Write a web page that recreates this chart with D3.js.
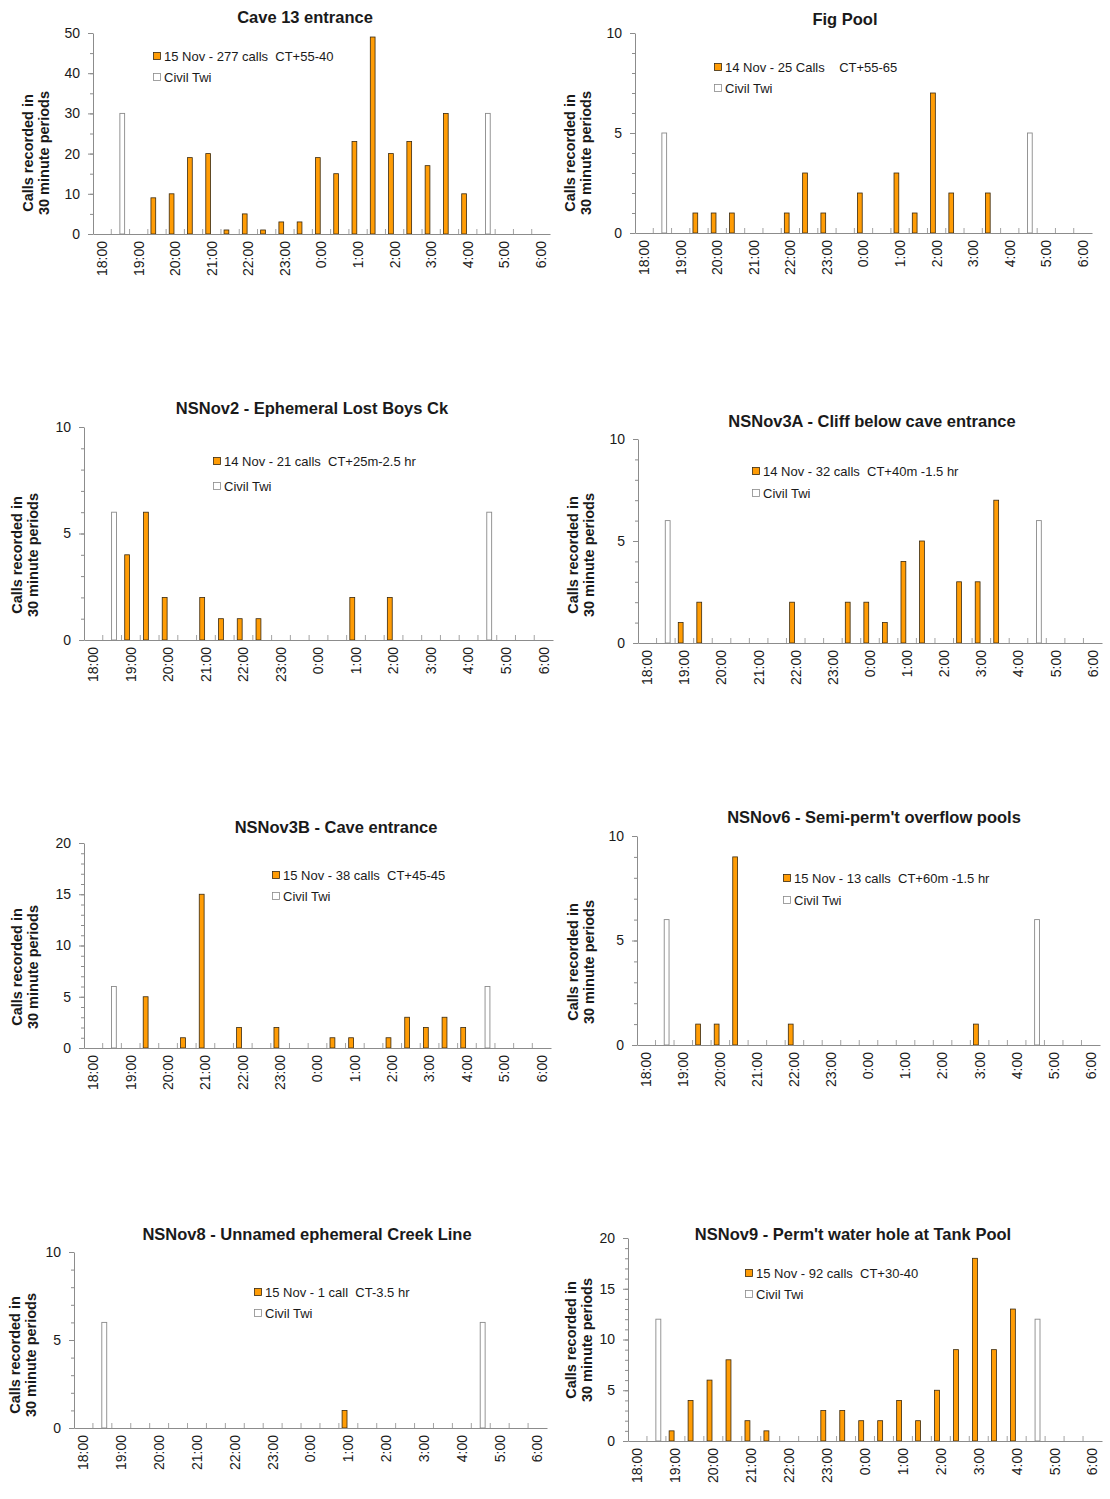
<!DOCTYPE html>
<html><head><meta charset="utf-8">
<script src="https://cdn.jsdelivr.net/npm/d3@7"></script>
<style>
body{margin:0;background:#fff;}
svg{display:block;font-family:"Liberation Sans",Arial,sans-serif;}
</style></head>
<body><svg id="c" width="1110" height="1499"></svg>
<script>
const timeLabels = ["18:00","18:30","19:00","19:30","20:00","20:30","21:00","21:30","22:00","22:30","23:00","23:30","0:00","0:30","1:00","1:30","2:00","2:30","3:00","3:30","4:00","4:30","5:00","5:30","6:00"];
const hourLabels = ["18:00","19:00","20:00","21:00","22:00","23:00","0:00","1:00","2:00","3:00","4:00","5:00","6:00"];
const seriesNames = ["calls","twi"];

const cave13Calls = [0,0,0,9,10,19,20,1,5,1,3,3,19,15,23,49,20,23,17,30,10,0,0,0,0];
const cave13Twi   = [0,30,0,0,0,0,0,0,0,0,0,0,0,0,0,0,0,0,0,0,0,30,0,0,0];
const figPoolCalls = [0,0,0,1,1,1,0,0,1,3,1,0,2,0,3,1,7,2,0,2,0,0,0,0,0];
const figPoolTwi   = [0,5,0,0,0,0,0,0,0,0,0,0,0,0,0,0,0,0,0,0,0,5,0,0,0];
const nsnov2Calls = [0,0,4,6,2,0,2,1,1,1,0,0,0,0,2,0,2,0,0,0,0,0,0,0,0];
const nsnov2Twi   = [0,6,0,0,0,0,0,0,0,0,0,0,0,0,0,0,0,0,0,0,0,6,0,0,0];
const nsnov3aCalls = [0,0,1,2,0,0,0,0,2,0,0,2,2,1,4,5,0,3,3,7,0,0,0,0,0];
const nsnov3aTwi   = [0,6,0,0,0,0,0,0,0,0,0,0,0,0,0,0,0,0,0,0,0,6,0,0,0];
const nsnov3bCalls = [0,0,0,5,0,1,15,0,2,0,2,0,0,1,1,0,1,3,2,3,2,0,0,0,0];
const nsnov3bTwi   = [0,6,0,0,0,0,0,0,0,0,0,0,0,0,0,0,0,0,0,0,0,6,0,0,0];
const nsnov6Calls = [0,0,0,1,1,9,0,0,1,0,0,0,0,0,0,0,0,0,1,0,0,0,0,0,0];
const nsnov6Twi   = [0,6,0,0,0,0,0,0,0,0,0,0,0,0,0,0,0,0,0,0,0,6,0,0,0];
const nsnov8Calls = [0,0,0,0,0,0,0,0,0,0,0,0,0,0,1,0,0,0,0,0,0,0,0,0,0];
const nsnov8Twi   = [0,6,0,0,0,0,0,0,0,0,0,0,0,0,0,0,0,0,0,0,0,6,0,0,0];
const nsnov9Calls = [0,0,1,4,6,8,2,1,0,0,3,3,2,2,4,2,5,9,18,9,13,0,0,0,0];
const nsnov9Twi   = [0,12,0,0,0,0,0,0,0,0,0,0,0,0,0,0,0,0,0,0,0,12,0,0,0];

const titles = ["Cave 13 entrance","Fig Pool","NSNov2 - Ephemeral Lost Boys Ck","NSNov3A - Cliff below cave entrance","NSNov3B - Cave entrance","NSNov6 - Semi-perm't overflow pools","NSNov8 - Unnamed ephemeral Creek Line","NSNov9 - Perm't water hole at Tank Pool"];
const legendCalls = ["15 Nov - 277 calls  CT+55-40","14 Nov - 25 Calls    CT+55-65","14 Nov - 21 calls  CT+25m-2.5 hr","14 Nov - 32 calls  CT+40m -1.5 hr","15 Nov - 38 calls  CT+45-45","15 Nov - 13 calls  CT+60m -1.5 hr","15 Nov - 1 call  CT-3.5 hr","15 Nov - 92 calls  CT+30-40"];
const legendTwi = "Civil Twi";
const yMaxes = [50,10,10,10,20,10,10,20];
const yMajorSteps = [10,5,5,5,5,5,5,5];
const yMinorSteps = [5,1,1,1,1,1,1,1];
const yTitle = ["Calls recorded in","30 minute periods"];

const callsData = [cave13Calls,figPoolCalls,nsnov2Calls,nsnov3aCalls,nsnov3bCalls,nsnov6Calls,nsnov8Calls,nsnov9Calls];
const twiData = [cave13Twi,figPoolTwi,nsnov2Twi,nsnov3aTwi,nsnov3bTwi,nsnov6Twi,nsnov8Twi,nsnov9Twi];

// layout (positions only)
const layout = [
 {l:93, r:550, t:33, b:234, tx:305, ty:17, lx:157, ly:56, yt:28, yc:153},
 {l:635,r:1092,t:33, b:233, tx:845, ty:19, lx:718, ly:67, yt:570, yc:153},
 {l:84, r:553, t:427,b:640, tx:312, ty:408, lx:217, ly:461, yt:17, yc:555},
 {l:638,r:1102,t:439,b:643, tx:872, ty:421, lx:756, ly:471, yt:573, yc:555},
 {l:84, r:551, t:843,b:1048,tx:336, ty:827, lx:276, ly:875, yt:17, yc:967},
 {l:637,r:1100,t:836,b:1045,tx:874, ty:817, lx:787, ly:878, yt:573, yc:962},
 {l:74, r:547, t:1252,b:1428,tx:307,ty:1234,lx:258, ly:1292, yt:15, yc:1355},
 {l:628,r:1102,t:1238,b:1441,tx:853,ty:1234,lx:749, ly:1273, yt:571, yc:1340}
];

const svg = d3.select("#c");
const ORANGE = "#ff9c05", TXT = "#1a1a1a", AX = "#8c8c8c";

layout.forEach((L, i) => {
  const g = svg.append("g");
  const x = d3.scaleBand().domain(timeLabels).range([L.l, L.r]).padding(0);
  const x1 = d3.scaleBand().domain(seriesNames).range([0, x.bandwidth()*0.9]).paddingInner(0.133).paddingOuter(0.567);
  const y = d3.scaleLinear().domain([0, yMaxes[i]]).range([L.b, L.t]);

  // title
  g.append("text").attr("x", L.tx).attr("y", L.ty).attr("text-anchor","middle")
    .attr("dominant-baseline","central").attr("font-weight","bold").attr("font-size",16.5)
    .attr("fill",TXT).text(titles[i]);

  // y title
  yTitle.forEach((s, k) => {
    g.append("text").attr("transform", `translate(${L.yt + k*16},${L.yc}) rotate(-90)`)
      .attr("text-anchor","middle").attr("dominant-baseline","central")
      .attr("font-weight","bold").attr("font-size",14.5).attr("fill",TXT).text(s);
  });

  // bars
  const rows = timeLabels.map((t, j) => ({t, calls: callsData[i][j], twi: twiData[i][j]}));
  g.append("g").selectAll("rect.tw").data(rows.filter(d => d.twi > 0)).join("rect")
    .attr("x", d => x(d.t) + x1("twi")).attr("width", x1.bandwidth())
    .attr("y", d => y(d.twi)).attr("height", d => y(0) - y(d.twi))
    .attr("fill","#fff").attr("stroke","#8a8a8a").attr("stroke-width",0.9);
  g.append("g").selectAll("rect.ca").data(rows.filter(d => d.calls > 0)).join("rect")
    .attr("x", d => x(d.t) + x1("calls")).attr("width", x1.bandwidth())
    .attr("y", d => y(d.calls)).attr("height", d => y(0) - y(d.calls))
    .attr("fill",ORANGE).attr("stroke","#3a2a10").attr("stroke-width",0.8);

  // y axis minor
  const minors = d3.range(0, yMaxes[i] + 0.001, yMinorSteps[i]);
  const majors = d3.range(0, yMaxes[i] + 0.001, yMajorSteps[i]);
  const yMin = g.append("g").attr("transform",`translate(${L.l},0)`)
    .call(d3.axisLeft(y).tickValues(minors).tickSize(3).tickFormat(""));
  yMin.select(".domain").remove();
  yMin.selectAll("line").attr("stroke",AX);
  const yAx = g.append("g").attr("transform",`translate(${L.l},0)`)
    .call(d3.axisLeft(y).tickValues(majors).tickSize(5).tickSizeOuter(0).tickPadding(8));
  yAx.select(".domain").attr("stroke",AX);
  yAx.selectAll("line").attr("stroke",AX);
  yAx.selectAll("text").attr("font-size",14).attr("fill",TXT).attr("font-family","Liberation Sans, Arial, sans-serif");

  // x axis
  const xAx = g.append("g").attr("transform",`translate(0,${L.b})`)
    .call(d3.axisBottom(x).tickValues(hourLabels).tickSize(0).tickPadding(0).tickSizeOuter(0));
  xAx.select(".domain").attr("stroke",AX);
  xAx.selectAll("text").attr("font-size",14).attr("fill",TXT)
    .attr("font-family","Liberation Sans, Arial, sans-serif")
    .attr("transform","translate(0,7) rotate(-90)")
    .attr("text-anchor","end").attr("dy","0.35em").attr("y",0).attr("x",0);
  // category boundary ticks
  g.append("g").selectAll("line").data(timeLabels.slice(1)).join("line")
    .attr("x1", d => x(d)).attr("x2", d => x(d)).attr("y1", L.b).attr("y2", L.b - 5)
    .attr("stroke",AX).attr("stroke-width",0.8);

  // legend
  const lg = g.append("g").attr("transform",`translate(${L.lx},${L.ly})`);
  lg.append("rect").attr("x",-3.5).attr("y",-3.5).attr("width",7).attr("height",7)
    .attr("fill",ORANGE).attr("stroke","#3a2a10").attr("stroke-width",0.8);
  lg.append("text").attr("x",7).attr("y",0).attr("dominant-baseline","central")
    .attr("font-size",13).attr("fill",TXT).style("white-space","pre").text(legendCalls[i]);
  const dy = (i===2 ? 25 : (i===3||i===5) ? 22 : 21);
  lg.append("rect").attr("x",-3.5).attr("y",dy-3.5).attr("width",7).attr("height",7)
    .attr("fill","#fff").attr("stroke","#8a8a8a").attr("stroke-width",0.8);
  lg.append("text").attr("x",7).attr("y",dy).attr("dominant-baseline","central")
    .attr("font-size",13).attr("fill",TXT).text(legendTwi);
});
</script></body></html>
